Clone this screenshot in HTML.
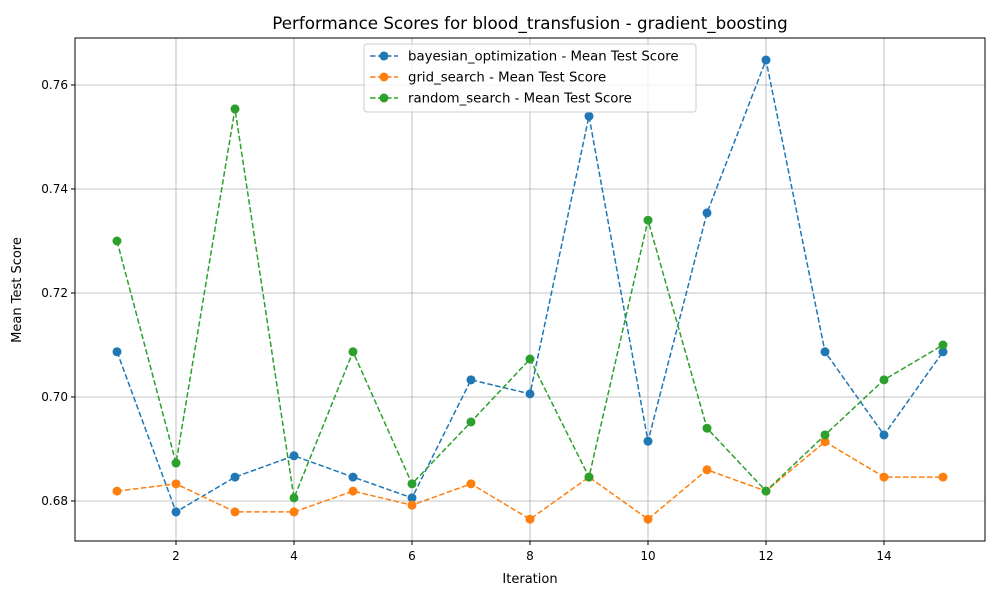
<!DOCTYPE html>
<html><head><meta charset="utf-8"><style>
body{margin:0;background:#fff;font-family:"Liberation Sans","DejaVu Sans",sans-serif;}
svg text{font-family:"DejaVu Sans","Liberation Sans",sans-serif;}
</style></head><body>
<svg id="c" width="1000" height="600" xmlns="http://www.w3.org/2000/svg">
<rect width="1000" height="600" fill="#fff"/>
<text x="530" y="29" font-size="16.7" text-anchor="middle">Performance Scores for blood_transfusion - gradient_boosting</text>
<g id="grid"></g><g id="series"></g>
<rect x="75" y="38" width="910" height="503" fill="none" stroke="#000" stroke-width="1"/>
<g id="ticks"></g>
<text x="530" y="583" font-size="13" text-anchor="middle">Iteration</text>
<text x="21" y="290" font-size="13" text-anchor="middle" transform="rotate(-90 21 290)">Mean Test Score</text>
<g id="legend"></g>
</svg>
<script>
const iterations=[1,2,3,4,5,6,7,8,9,10,11,12,13,14,15];
const bayesian=[0.7087,0.6779,0.6846,0.6887,0.6846,0.6806,0.7033,0.7006,0.7540,0.6915,0.7354,0.7648,0.7087,0.6927,0.7087];
const grid=[0.6819,0.6833,0.6779,0.6779,0.6819,0.6792,0.6833,0.6765,0.6846,0.6765,0.6860,0.6819,0.6914,0.6846,0.6846];
const random=[0.7300,0.6873,0.7554,0.6806,0.7087,0.6833,0.6952,0.7073,0.6846,0.7340,0.6940,0.6819,0.6927,0.7033,0.7100];
const xTicks=[2,4,6,8,10,12,14];
const yTicks=[0.68,0.70,0.72,0.74,0.76];
const seriesNames=["bayesian_optimization - Mean Test Score","grid_search - Mean Test Score","random_search - Mean Test Score"];
const colors=["#1f77b4","#ff7f0e","#2ca02c"];
const NS="http://www.w3.org/2000/svg";
const X=v=>117+(v-1)*59;
const Y=v=>501-(v-0.68)*5200;
function mk(tag,attrs,parent){const e=document.createElementNS(NS,tag);for(const k in attrs)e.setAttribute(k,attrs[k]);parent.appendChild(e);return e;}
const g=document.getElementById('grid'),t=document.getElementById('ticks'),s=document.getElementById('series'),lg=document.getElementById('legend');
xTicks.forEach(v=>{
 const l=mk('line',{x1:X(v),x2:X(v),y1:38,y2:541,stroke:'#b0b0b0','stroke-width':0.8},g);
 
 
 mk('line',{x1:X(v),x2:X(v),y1:541,y2:545,stroke:'#000'},t);
 const tx=mk('text',{x:X(v),y:560,'font-size':12,'text-anchor':'middle'},t);tx.textContent=v;
 
 
});
yTicks.forEach(v=>{
 const l=mk('line',{x1:75,x2:985,y1:Y(v),y2:Y(v),stroke:'#b0b0b0','stroke-width':0.8},g);
 
 
 mk('line',{x1:71,x2:75,y1:Y(v),y2:Y(v),stroke:'#000'},t);
 const tx=mk('text',{x:68,y:Y(v)+4,'font-size':12,'text-anchor':'end'},t);tx.textContent=v.toFixed(2);
 
 
});
[bayesian,grid,random].forEach((d,i)=>{
 const p=mk('polyline',{points:d.map((v,j)=>X(iterations[j])+','+Y(v)).join(' '),fill:'none',stroke:colors[i],'stroke-width':1.5,'stroke-dasharray':'5.5,2.5'},s);
 
 
 d.forEach((v,j)=>{
  const c=mk('circle',{cx:X(iterations[j]),cy:Y(v),r:4.5,fill:colors[i]},s);
  
  
 });
});
const box=mk('rect',{x:364,y:44,width:332,height:68,fill:'#fff','fill-opacity':0.8,stroke:'#ccc',rx:3},lg);


seriesNames.forEach((n,i)=>{
 const y=56+i*21;
 mk('line',{x1:370,x2:398,y1:y,y2:y,stroke:colors[i],'stroke-width':1.5,'stroke-dasharray':'5.5,2.5'},lg);
 mk('circle',{cx:384,cy:y,r:4.5,fill:colors[i]},lg);
 const tx=mk('text',{x:408,y:y+4.5,'font-size':13.3},lg);tx.textContent=n;
 
 
});
</script>
</body></html>
